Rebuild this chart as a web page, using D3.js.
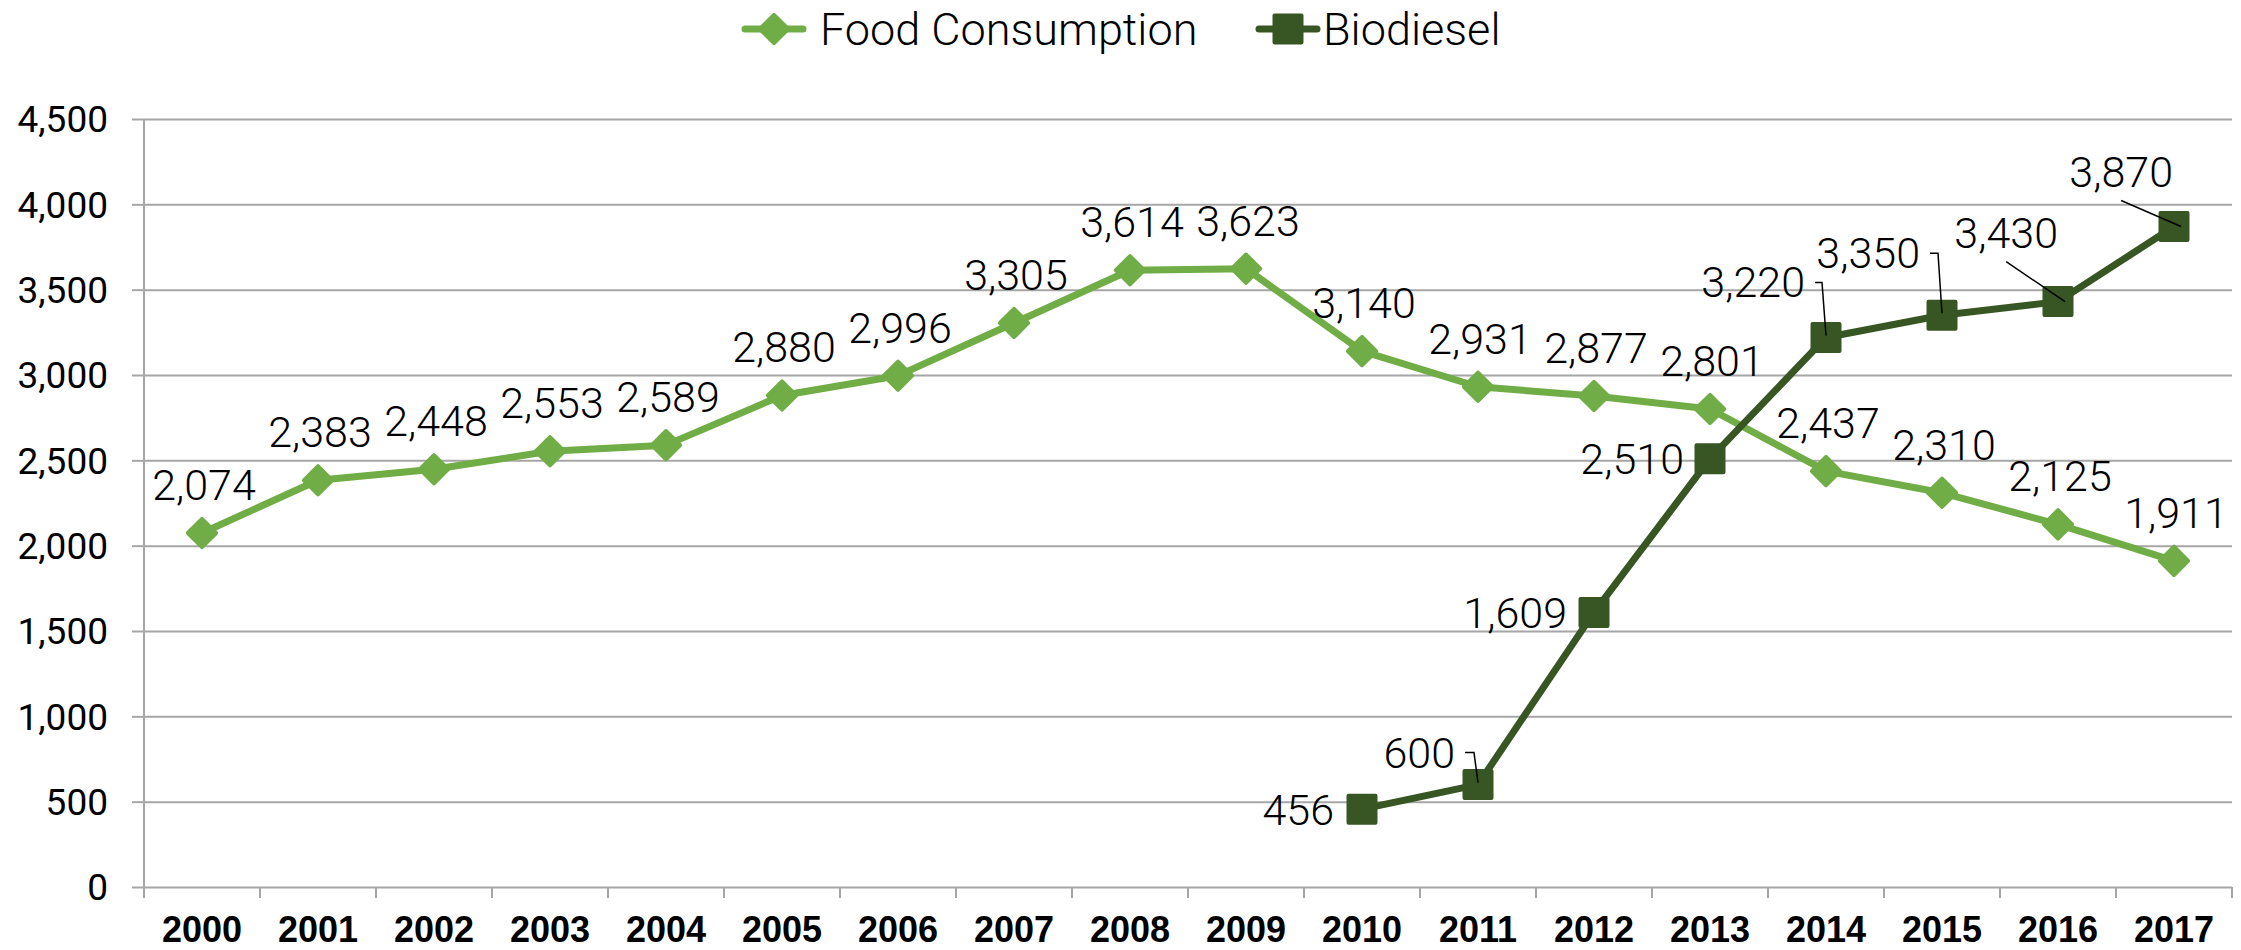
<!DOCTYPE html>
<html>
<head>
<meta charset="utf-8">
<script src="https://cdn.jsdelivr.net/npm/d3@7"></script>
<style>
  body { margin: 0; background: #fff; }
  svg { display: block; }
  .lbl { font-family: Roboto, "Liberation Sans", Arial, sans-serif; font-weight: 300; fill: #000; }
</style>
</head>
<body>
<div id="chart"></div>
<script>
var years = ["2000","2001","2002","2003","2004","2005","2006","2007","2008",
             "2009","2010","2011","2012","2013","2014","2015","2016","2017"];
var food = [2074, 2383, 2448, 2553, 2589, 2880, 2996, 3305, 3614,
            3623, 3140, 2931, 2877, 2801, 2437, 2310, 2125, 1911];
var biodiesel = [null, null, null, null, null, null, null, null, null,
                 null, 456, 600, 1609, 2510, 3220, 3350, 3430, 3870];
var yTicks = [0, 500, 1000, 1500, 2000, 2500, 3000, 3500, 4000, 4500];
var seriesNames = ["Food Consumption", "Biodiesel"];

var svgWidth = 2241;
var svgHeight = 950;
var margin = { top: 119, right: 9, bottom: 63, left: 144 };
var width = svgWidth - margin.left - margin.right;
var height = svgHeight - margin.top - margin.bottom;

var foodColor = "#70ad47";
var bioColor = "#375623";
var gridColor = "#a6a6a6";

var svg = d3.select("#chart")
  .append("svg")
  .attr("width", svgWidth)
  .attr("height", svgHeight);

var g = svg.append("g")
  .attr("transform", `translate(${margin.left}, ${margin.top})`);

// scales
var x = d3.scaleBand().domain(years).range([0, width]).padding(0);
var y = d3.scaleLinear().domain([0, 4500]).range([height, 0]);
var cx = d => x(d) + x.bandwidth() / 2;

// gridlines
g.append("g")
  .call(d3.axisLeft(y).tickValues(yTicks).tickSize(-width).tickFormat(""))
  .call(a => a.select(".domain").remove())
  .selectAll("line")
  .attr("stroke", gridColor)
  .attr("stroke-width", 2);

// y axis
var yAxis = g.append("g")
  .call(d3.axisLeft(y).tickValues(yTicks).tickSize(12).tickPadding(24)
    .tickFormat(d3.format(",")));
yAxis.select(".domain").remove();
yAxis.selectAll("line").attr("stroke", gridColor).attr("stroke-width", 2);
yAxis.selectAll("text")
  .attr("class", "lbl")
  .style("font-size", "37px")
  .style("font-weight", 400)
  .attr("dy", "0.35em");
g.append("line")
  .attr("x1", 0).attr("x2", 0)
  .attr("y1", 0).attr("y2", height + 11)
  .attr("stroke", gridColor).attr("stroke-width", 2);

// x axis
var xAxis = g.append("g")
  .attr("transform", `translate(0, ${height})`)
  .call(d3.axisBottom(x).tickSize(0).tickPadding(29));
xAxis.select(".domain").remove();
xAxis.selectAll("text")
  .style("font-family", "'Liberation Sans', Arial, sans-serif")
  .style("font-size", "36px")
  .style("font-weight", "bold")
  .attr("fill", "#000");
g.append("g").selectAll("line")
  .data(years.concat(["end"]))
  .enter()
  .append("line")
  .attr("x1", (d, i) => i < years.length ? x(d) : width)
  .attr("x2", (d, i) => i < years.length ? x(d) : width)
  .attr("y1", height)
  .attr("y2", height + 11)
  .attr("stroke", gridColor)
  .attr("stroke-width", 2);

// lines
var foodData = years.map((d, i) => ({ year: d, value: food[i] }));
var bioData = years.map((d, i) => ({ year: d, value: biodiesel[i] }))
  .filter(d => d.value !== null);

var line = d3.line().x(d => cx(d.year)).y(d => y(d.value));

g.append("path")
  .datum(foodData)
  .attr("d", line)
  .attr("fill", "none")
  .attr("stroke", foodColor)
  .attr("stroke-width", 7)
  .attr("stroke-linejoin", "round");

g.append("path")
  .datum(bioData)
  .attr("d", line)
  .attr("fill", "none")
  .attr("stroke", bioColor)
  .attr("stroke-width", 7)
  .attr("stroke-linejoin", "round");

// markers
var diamond = d3.symbol().type(d3.symbolSquare).size(400);
var square = d3.symbol().type(d3.symbolSquare).size(729);

g.selectAll(".food-pt")
  .data(foodData)
  .enter()
  .append("path")
  .attr("d", diamond)
  .attr("transform", d => `translate(${cx(d.year)}, ${y(d.value)}) rotate(45)`)
  .attr("fill", foodColor)
  .attr("stroke", foodColor)
  .attr("stroke-width", 4)
  .attr("stroke-linejoin", "round");

g.selectAll(".bio-pt")
  .data(bioData)
  .enter()
  .append("path")
  .attr("d", square)
  .attr("transform", d => `translate(${cx(d.year)}, ${y(d.value)})`)
  .attr("fill", bioColor)
  .attr("stroke", bioColor)
  .attr("stroke-width", 4)
  .attr("stroke-linejoin", "round");

// data labels
var fmt = d3.format(",");
g.selectAll(".food-lbl")
  .data(foodData)
  .enter()
  .append("text")
  .attr("class", "lbl")
  .attr("x", d => cx(d.year) + 2)
  .attr("y", d => y(d.value) - 33)
  .attr("text-anchor", "middle")
  .style("font-size", "43px")
  .text(d => fmt(d.value));

// label placement for biodiesel: [dx, dy, leader]
var bioLabelPos = [
  [-28, 16, null],
  [-23, -17, "bend"],
  [-27, 16, null],
  [-26, 15, null],
  [-21, -40, "bend"],
  [-22, -47, "bend"],
  [0, -54, "diag"],
  [-1, -40, "diag"]
];

bioData.forEach(function(d, i) {
  var px = cx(d.year), py = y(d.value);
  var p = bioLabelPos[i];
  var t = g.append("text")
    .attr("class", "lbl")
    .attr("x", px + p[0])
    .attr("y", py + p[1])
    .attr("text-anchor", "end")
    .style("font-size", "43px")
    .text(fmt(d.value));
  if (p[2] === "bend") {
    var ly = py + p[1] - 15;
    var lx = px + p[0] + 10;
    g.append("path")
      .attr("d", `M${lx},${ly}H${px - 4}L${px},${py - 2}`)
      .attr("fill", "none")
      .attr("stroke", "#000")
      .attr("stroke-width", 1.5);
  } else if (p[2] === "diag") {
    var bb = t.node().getBBox();
    g.append("line")
      .attr("x1", bb.x + bb.width / 2)
      .attr("y1", py + p[1] + 14)
      .attr("x2", px + 7)
      .attr("y2", py)
      .attr("stroke", "#000")
      .attr("stroke-width", 1.5);
  }
});

// legend
var legend = svg.append("g");
var legendItems = [
  { name: seriesNames[0], color: foodColor, x: 745, marker: "diamond" },
  { name: seriesNames[1], color: bioColor, x: 1259, marker: "square" }
];
legendItems.forEach(function(item) {
  legend.append("line")
    .attr("x1", item.x).attr("x2", item.x + 58)
    .attr("y1", 29).attr("y2", 29)
    .attr("stroke", item.color)
    .attr("stroke-width", 7)
    .attr("stroke-linecap", "round");
  legend.append("path")
    .attr("d", item.marker === "diamond" ? diamond : square)
    .attr("transform", `translate(${item.x + 29}, 29)` + (item.marker === "diamond" ? " rotate(45)" : ""))
    .attr("fill", item.color)
    .attr("stroke", item.color)
    .attr("stroke-width", 4)
    .attr("stroke-linejoin", "round");
  legend.append("text")
    .attr("class", "lbl")
    .attr("x", item.x + (item.marker === "diamond" ? 75 : 64))
    .attr("y", 45)
    .style("font-size", "45px")
    .style("font-weight", 300)
    .text(item.name);
});
</script>
</body>
</html>
